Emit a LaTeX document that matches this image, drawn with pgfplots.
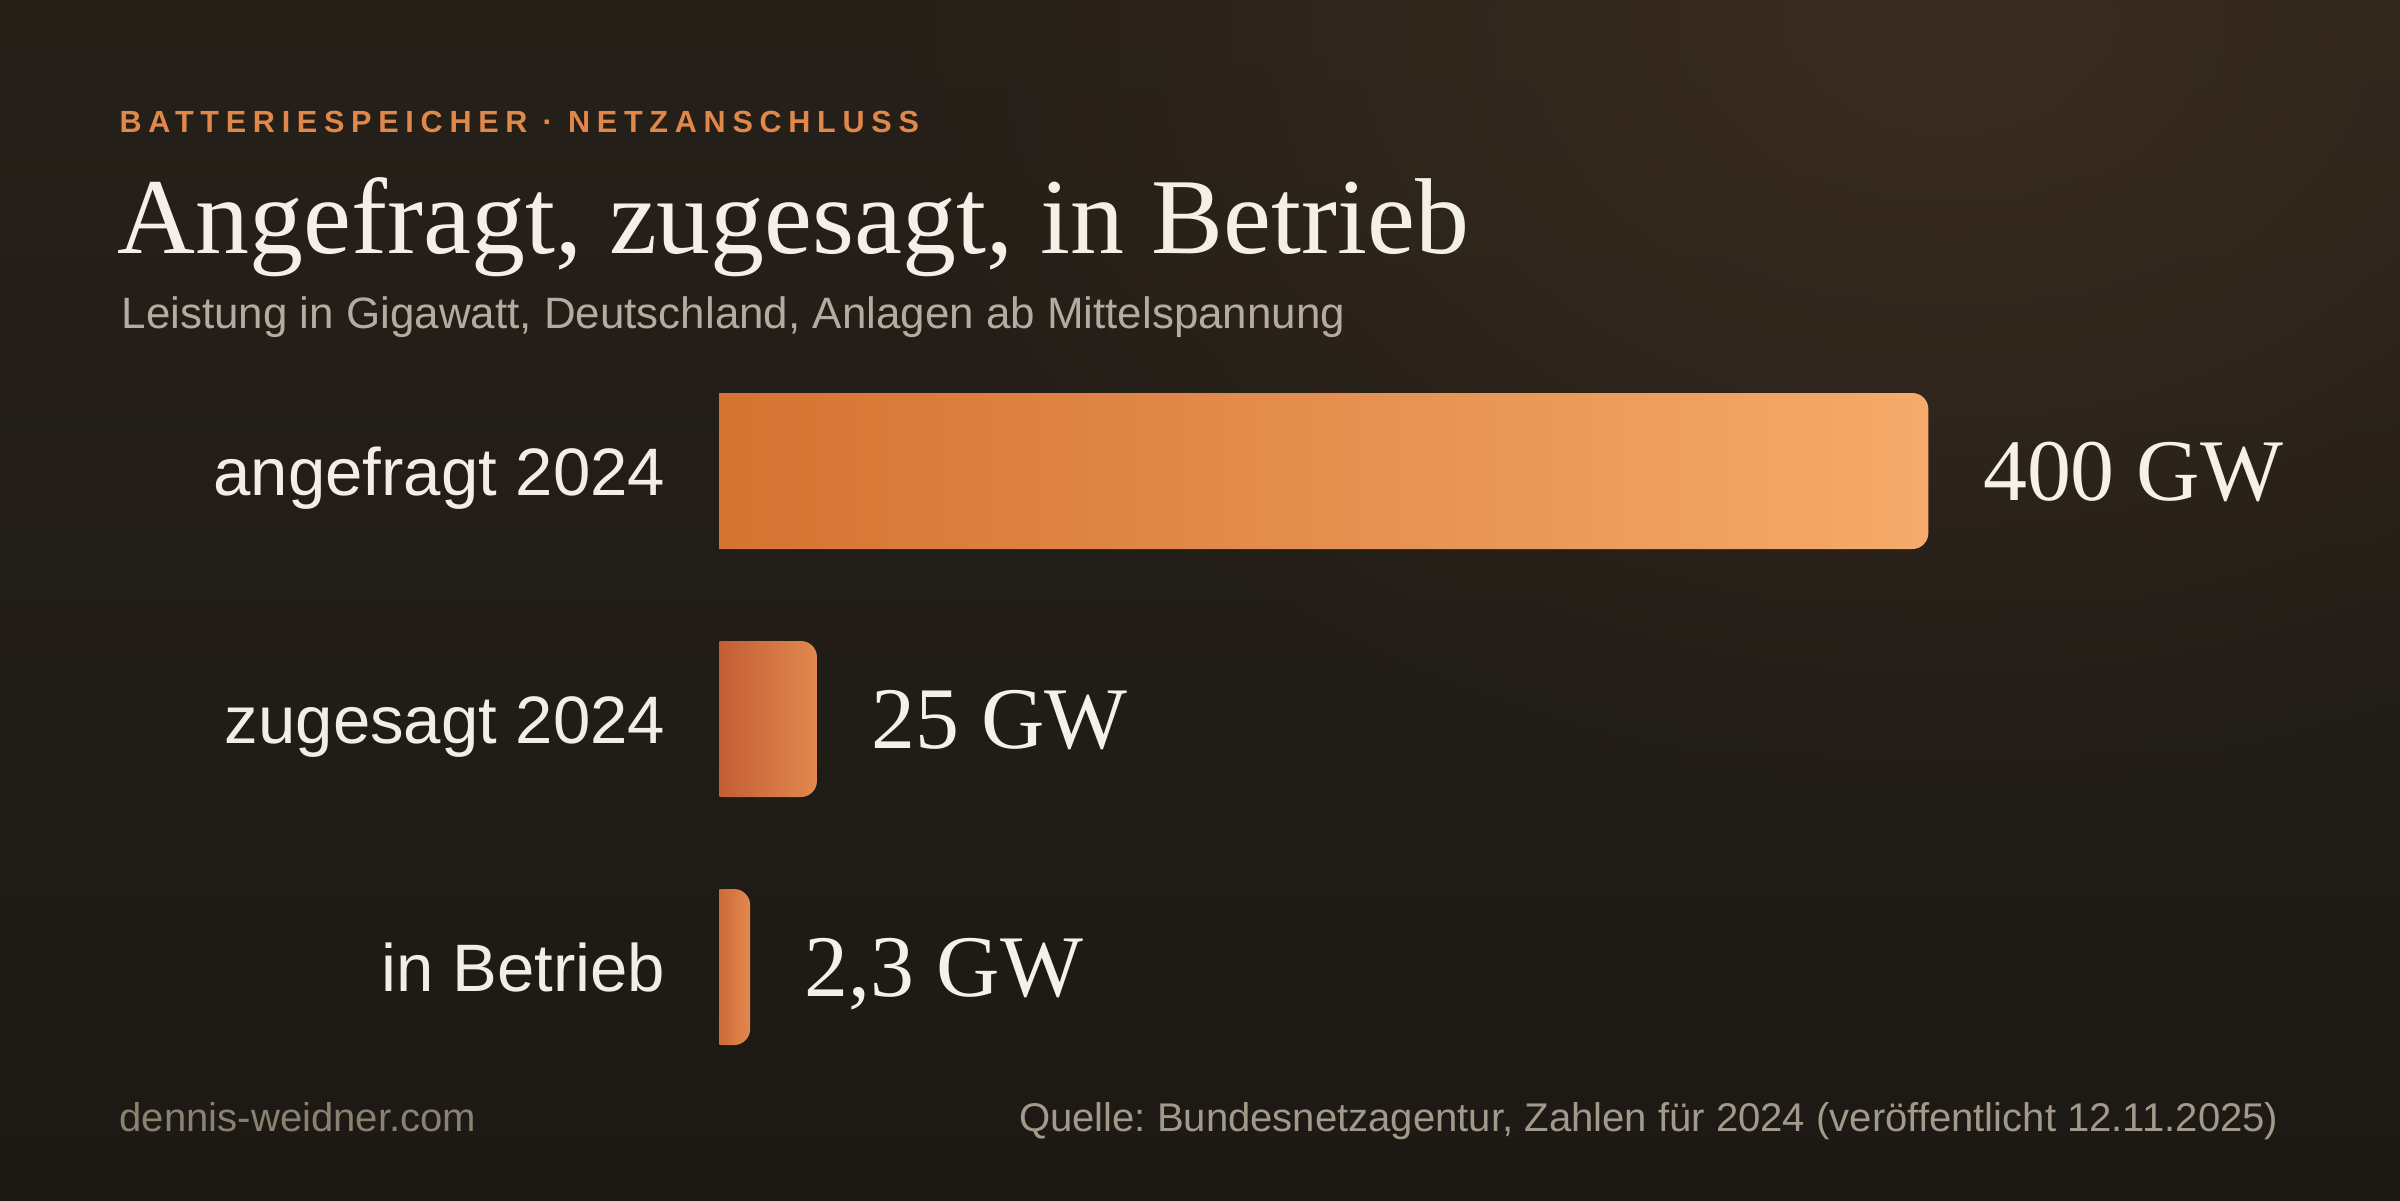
\documentclass[border=0pt]{standalone}
\usepackage{fontspec}
\setmainfont{Liberation Sans}
\newfontfamily\serifface{Liberation Serif}
\newfontfamily\headface{Liberation Sans}[LetterSpace=22]
\usepackage{pgfplots}
\pgfplotsset{compat=1.18}
\usetikzlibrary{fadings}
\definecolor{bgtop}{HTML}{262019}
\definecolor{bgbot}{HTML}{1C1915}
\definecolor{glow}{HTML}{3A2C20}
\definecolor{headc}{HTML}{E0874A}
\definecolor{titlec}{HTML}{F4F0E8}
\definecolor{subc}{HTML}{B5AB9E}
\definecolor{catc}{HTML}{F2EEE6}
\definecolor{valc}{HTML}{F5F1E8}
\definecolor{foota}{HTML}{8B8171}
\definecolor{footb}{HTML}{A3998B}
\definecolor{baral}{HTML}{D3702F}
\definecolor{barar}{HTML}{F5AB6B}
\definecolor{barbl}{HTML}{BF5832}
\definecolor{barbr}{HTML}{E2884E}
\tikzfading[name=glowfade, inner color=transparent!0, outer color=transparent!100]
\begin{document}
\frenchspacing
\begin{tikzpicture}
\useasboundingbox (0,0) rectangle (24,12);
\shade[top color=bgtop, bottom color=bgbot] (0,0) rectangle (24,12);
\fill[glow, path fading=glowfade] (19.5,11.8) ellipse (11 and 8);
% header texts
\node[anchor=base west, inner sep=0pt, text=headc] at (1.19,10.67)
  {\headface\bfseries\fontsize{8.7pt}{10pt}\selectfont BATTERIESPEICHER · NETZANSCHLUSS};
\node[anchor=base west, inner sep=0pt, text=titlec] at (1.17,9.46)
  {\serifface\fontsize{30.7pt}{34pt}\selectfont Angefragt, zugesagt, in Betrieb};
\node[anchor=base west, inner sep=0pt, text=subc] at (1.21,8.72)
  {\fontsize{12.5pt}{14pt}\selectfont Leistung in Gigawatt, Deutschland, Anlagen ab Mittelspannung};
% footer
\node[anchor=base west, inner sep=0pt, text=foota] at (1.19,0.69)
  {\fontsize{11.4pt}{13pt}\selectfont dennis-weidner.com};
\node[anchor=base east, inner sep=0pt, text=footb] at (22.79,0.69)
  {\fontsize{11.4pt}{13pt}\selectfont Quelle: Bundesnetzagentur, Zahlen für 2024 (veröffentlicht 12.11.2025)};
\begin{axis}[
  at={(7.19cm,1.09cm)}, anchor=south west,
  scale only axis, width=16.81cm, height=7.44cm,
  xmin=0, xmax=556, ymin=-0.5, ymax=2.5, y dir=reverse,
  axis line style={draw=none}, tick style={draw=none},
  major tick length=0pt,
  xtick=\empty, ytick={0,1,2},
  yticklabels={angefragt 2024, zugesagt 2024, in Betrieb},
  yticklabel style={anchor=base east, inner sep=0pt, xshift=-0.53cm, yshift=-0.245cm,
    text=catc, font=\fontsize{19.1pt}{22pt}\selectfont},
]
% bars (drawn lengths as in the reference)
\addplot[draw=none, left color=baral, right color=barar, rounded corners=1.6mm]
  coordinates {(-20,-0.3145) (400,-0.3145) (400,0.3145) (-20,0.3145)} -- cycle;
\addplot[draw=none, left color=barbl, right color=barbr, rounded corners=1.6mm]
  coordinates {(-4,0.6855) (32.4,0.6855) (32.4,1.3145) (-4,1.3145)} -- cycle;
\addplot[draw=none, left color=barbl!70!baral, right color=barbr, rounded corners=1.6mm]
  coordinates {(-4,1.6855) (10.3,1.6855) (10.3,2.3145) (-4,2.3145)} -- cycle;
% value labels
\addplot[draw=none, mark=none, point meta=explicit symbolic,
  nodes near coords,
  every node near coord/.append style={anchor=base west, inner sep=0pt,
    xshift=0.54cm, yshift=-0.29cm, text=valc,
    font=\serifface\fontsize{25pt}{28pt}\selectfont}]
  coordinates {(400,0) [400 GW] (32.4,1) [25 GW] (10.3,2) [{2,3 GW}]};
\end{axis}
\end{tikzpicture}
\end{document}
